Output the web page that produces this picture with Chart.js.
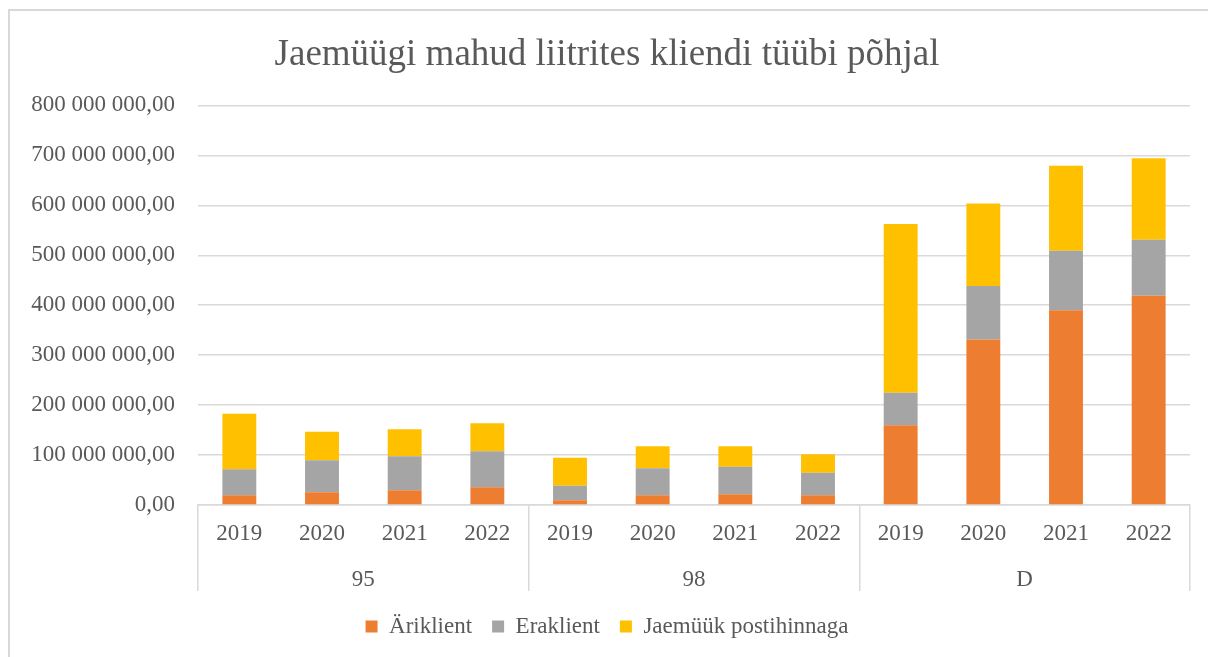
<!DOCTYPE html>
<html>
<head>
<meta charset="utf-8">
<script src="https://cdn.jsdelivr.net/npm/chart.js@4.4.1/dist/chart.umd.min.js"></script>
<style>
  html, body { margin: 0; padding: 0; background: #fff; overflow: hidden; }
  #wrap { position: relative; width: 1208px; height: 657px; }
  #frame { position: absolute; left: 8px; top: 9px; width: 1230px; height: 700px; border: 2px solid #d9d9d9; }
  canvas { position: absolute; left: 0; top: 0; }
</style>
</head>
<body>
<div id="wrap">
  <div id="frame"></div>
  <canvas id="jaemyykChart" width="1208" height="657"></canvas>
</div>
<script>
  // Categories
  const groups = ['95', '98', 'D'];
  const years = ['2019', '2020', '2021', '2022'];

  // Series values (liters), order: 95 2019-2022, 98 2019-2022, D 2019-2022
  const ariklient = [19500000, 25500000, 29500000, 35500000, 9500000, 19500000, 21500000, 19500000, 159500000, 331500000, 390000000, 419000000];
  const eraklient = [52000000, 64000000, 68000000, 72000000, 29000000, 54000000, 55000000, 45000000, 65000000, 107000000, 119000000, 112000000];
  const postihind = [111000000, 57000000, 54000000, 56000000, 56000000, 44000000, 41000000, 37000000, 338000000, 165000000, 170000000, 163000000];

  // Y tick values
  const yMax = 800000000;
  const yStep = 100000000;

  const textColor = '#595959';
  const gridColor = '#d9d9d9';
  const serif = "'Liberation Serif', 'Times New Roman', serif";
  const tickFont = { family: serif, size: 23 };

  const labels = groups.flatMap(g => years.map(y => g + ' ' + y));

  // 800 000 000,00 style
  const fmt = v => v.toFixed(2).replace('.', ',').replace(/\B(?=(\d{3})+(?!\d))/g, ' ');

  const ctx = document.getElementById('jaemyykChart').getContext('2d');

  new Chart(ctx, {
    type: 'bar',
    data: {
      labels: labels,
      datasets: [
        { label: 'Äriklient', data: ariklient, backgroundColor: '#ED7D31' },
        { label: 'Eraklient', data: eraklient, backgroundColor: '#A5A5A5' },
        { label: 'Jaemüük postihinnaga', data: postihind, backgroundColor: '#FFC000' }
      ]
    },
    options: {
      responsive: false,
      animation: false,
      categoryPercentage: 1,
      barPercentage: 0.41,
      // left padding shifts title/legend centre a bit to the right
      layout: { padding: { left: 24, right: 18, top: 27, bottom: 9 } },
      plugins: {
        title: {
          display: true,
          text: 'Jaemüügi mahud liitrites kliendi tüübi põhjal',
          color: textColor,
          font: { family: serif, size: 37, weight: 'normal' },
          padding: { top: 6, bottom: 28 }
        },
        legend: {
          position: 'bottom',
          labels: {
            color: textColor,
            font: tickFont,
            boxWidth: 12,
            boxHeight: 12,
            padding: 20
          }
        },
        tooltip: { enabled: false }
      },
      scales: {
        y: {
          stacked: true,
          min: 0,
          max: yMax,
          border: { display: false },
          grid: { color: gridColor, lineWidth: 1.5, drawTicks: false },
          ticks: {
            stepSize: yStep,
            padding: 23,
            color: textColor,
            font: tickFont,
            callback: v => fmt(v)
          },
          afterFit: s => { s.width = 174; }
        },
        x: {
          stacked: true,
          border: { color: gridColor, width: 1.5 },
          grid: {
            offset: true,
            drawOnChartArea: false,
            tickLength: 86,
            lineWidth: 1.5,
            color: c => (c.index === undefined || c.index % years.length === 0) ? gridColor : 'rgba(0,0,0,0)'
          },
          ticks: {
            autoSkip: false,
            maxRotation: 0,
            mirror: true,
            padding: -43,
            color: textColor,
            font: tickFont,
            callback: function (v) { return this.getLabelForValue(v).split(' ')[1]; }
          },
          afterFit: s => { s.height = 45; }
        },
        x2: {
          type: 'category',
          position: 'bottom',
          labels: groups,
          offset: true,
          border: { display: false },
          grid: { display: false },
          ticks: {
            padding: 8,
            color: textColor,
            font: tickFont
          },
          afterFit: s => { s.height = 45; }
        }
      }
    }
  });
</script>
</body>
</html>
